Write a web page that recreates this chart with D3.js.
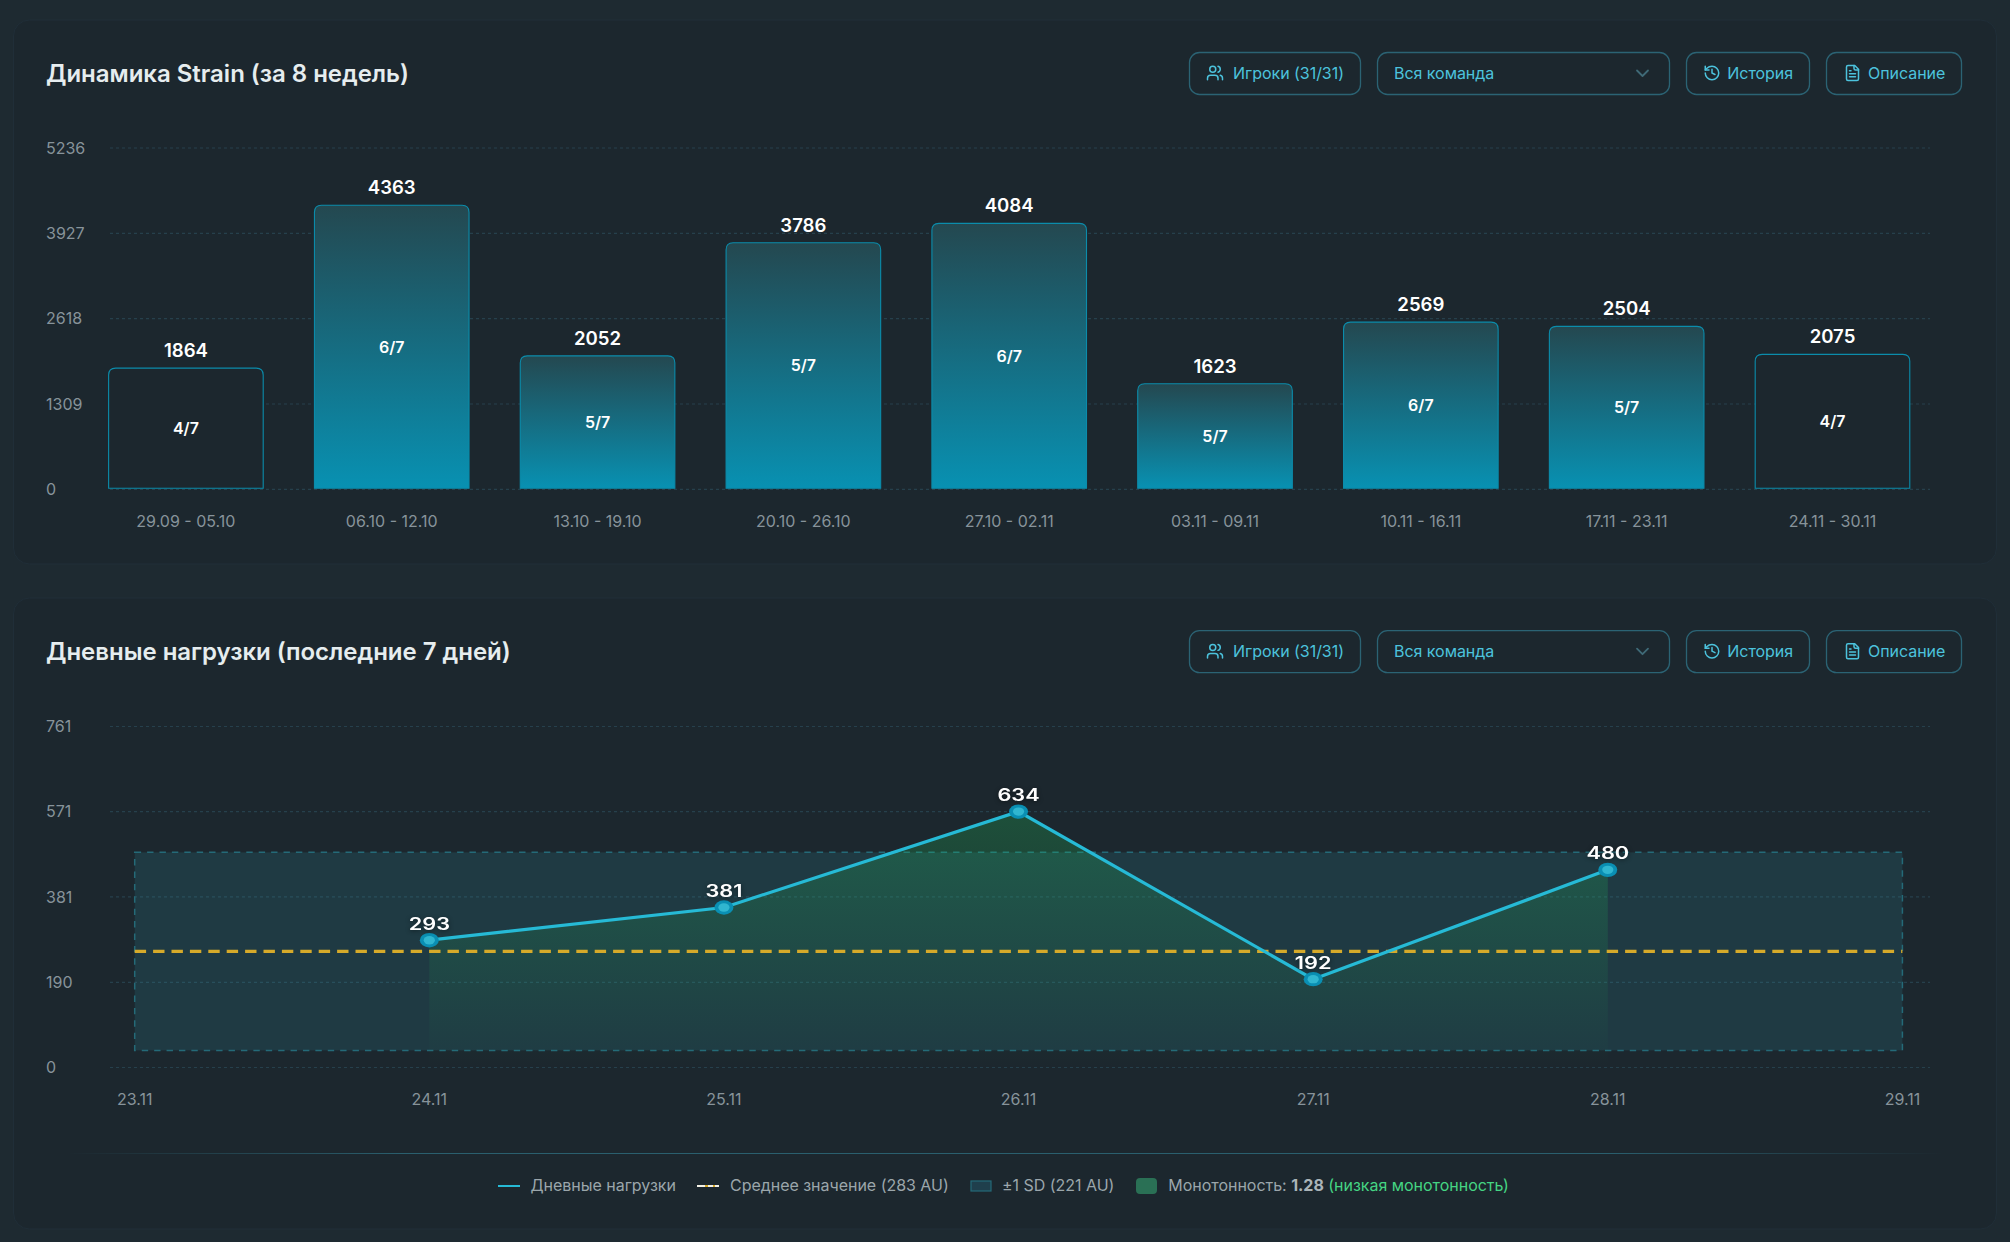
<!DOCTYPE html>
<html lang="ru">
<head>
<meta charset="utf-8">
<script src="https://cdn.jsdelivr.net/npm/d3@7/dist/d3.min.js"></script>
<style>
html,body{margin:0;padding:0;background:#1e2a31;}
svg{display:block;font-family:Inter,"Noto Sans",sans-serif;}
</style>
</head>
<body>
<svg id="c" width="2010" height="1242"></svg>
<script>
// ---- data ----
const weekLabels = ["29.09 - 05.10","06.10 - 12.10","13.10 - 19.10","20.10 - 26.10","27.10 - 02.11","03.11 - 09.11","10.11 - 16.11","17.11 - 23.11","24.11 - 30.11"];
const weekValues = [1864,4363,2052,3786,4084,1623,2569,2504,2075];
const weekDays = ["4/7","6/7","5/7","5/7","6/7","5/7","6/7","5/7","4/7"];
const weekGhost = [true,false,false,false,false,false,false,false,true];
const weekTicks = [0,1309,2618,3927,5236];

const dayLabels = ["23.11","24.11","25.11","26.11","27.11","28.11","29.11"];
const loadDays = ["24.11","25.11","26.11","27.11","28.11"];
const loadPlotted = [283,356,570,196,440];
const loadLabels = [293,381,634,192,480];
const dayTicks = [0,190,381,571,761];
const meanPlotted = 258;
const sdPlotted = 221;

const titles = ["Динамика Strain (за 8 недель)","Дневные нагрузки (последние 7 дней)"];
const legendTexts = ["Дневные нагрузки","Среднее значение (283 AU)","±1 SD (221 AU)"];

// ---- colours ----
const GRID="#26404c", TICK="#87939a", ACC="#4cc3dd", BORDER="#2b6374", PANEL="#1c272e";

const svg=d3.select("#c");
const defs=svg.append("defs");
const barGrad=defs.append("linearGradient").attr("id","barGrad").attr("x1",0).attr("x2",0).attr("y1",0).attr("y2",1);
barGrad.append("stop").attr("offset",0).attr("stop-color","#244850");
barGrad.append("stop").attr("offset",1).attr("stop-color","#0891b2");
const areaGrad=defs.append("linearGradient").attr("id","areaGrad").attr("x1",0).attr("x2",0).attr("y1",0).attr("y2",1);
areaGrad.append("stop").attr("offset",0).attr("stop-color","#22c55e").attr("stop-opacity",0.26);
areaGrad.append("stop").attr("offset",1).attr("stop-color","#22c55e").attr("stop-opacity",0);

// panels
[[13.5,20,1983,544],[13.5,598,1983,631]].forEach(p=>{
  svg.append("rect").attr("x",p[0]).attr("y",p[1]).attr("width",p[2]).attr("height",p[3]).attr("rx",16)
    .attr("fill",PANEL).attr("stroke","#202e38");
});

function icon(g,kind,x,y,size){
  const s=size/24;
  const n=g.append("g").attr("transform",`translate(${x},${y}) scale(${s})`)
    .attr("fill","none").attr("stroke",ACC).attr("stroke-width",2).attr("stroke-linecap","round").attr("stroke-linejoin","round");
  const paths={
    users:["M16 21v-2a4 4 0 0 0-4-4H6a4 4 0 0 0-4 4v2","M9 3a4 4 0 1 0 0 8a4 4 0 1 0 0-8","M22 21v-2a4 4 0 0 0-3-3.87","M16 3.13a4 4 0 0 1 0 7.75"],
    history:["M3 12a9 9 0 1 0 9-9 9.75 9.75 0 0 0-6.74 2.74L3 8","M3 3v5h5","M12 7v5l4 2"],
    file:["M15 2H6a2 2 0 0 0-2 2v16a2 2 0 0 0 2 2h12a2 2 0 0 0 2-2V7Z","M14 2v4a2 2 0 0 0 2 2h4","M10 9H8","M16 13H8","M16 17H8"]
  }[kind];
  paths.forEach(d=>n.append("path").attr("d",d));
}

function header(title,dy){
  const g=svg.append("g").attr("transform",`translate(0,${dy})`);
  g.append("text").attr("x",46).attr("y",73.6).attr("dy","0.35em").attr("font-size",24).attr("font-weight",600).attr("letter-spacing",-0.02).attr("fill","#e6edef").text(title);
  const btn=(x0,x1)=>g.append("rect").attr("x",x0).attr("y",52.5).attr("width",x1-x0).attr("height",42).attr("rx",10).attr("fill","none").attr("stroke",BORDER).attr("stroke-width",1.3);
  const lab=(x,t)=>g.append("text").attr("x",x).attr("y",73.5).attr("dy","0.35em").attr("font-size",16).attr("font-weight",400).attr("letter-spacing",-0.04).attr("fill",ACC).text(t);
  btn(1189.5,1360.5); icon(g,"users",1206,64,18); lab(1233,"Игроки (31/31)");
  btn(1377.5,1669.5); lab(1394,"Вся команда");
  g.append("path").attr("d","M1637 70.5l5.5 5.5l5.5-5.5").attr("fill","none").attr("stroke","#3f6a77").attr("stroke-width",1.8).attr("stroke-linecap","round").attr("stroke-linejoin","round");
  btn(1686.5,1809.5); icon(g,"history",1703,64,18); lab(1727.3,"История");
  btn(1826.5,1961.5); icon(g,"file",1843.5,64,18); lab(1868,"Описание");
}
titles.forEach((t,i)=>header(t,i*578.2));

function yAxis(sel,scale,ticks){
  sel.attr("transform","translate(110,0)")
    .call(d3.axisLeft(scale).tickValues(ticks).tickSize(-1820).tickPadding(25).tickFormat(d3.format("d")))
    .call(g=>g.select(".domain").remove())
    .call(g=>g.selectAll("line").attr("stroke",GRID).attr("stroke-width",1.2).attr("stroke-dasharray","3 3"))
    .call(g=>g.selectAll("text").attr("fill",TICK).attr("font-size",16).attr("text-anchor","start").attr("x",-64).attr("y",0.6).attr("font-family","Inter"));
}

// ---- chart 1 ----
const x1=d3.scaleBand().domain(weekLabels).range([83,1935.4]).paddingInner(0.247).paddingOuter(0.1235);
const y1=d3.scaleLinear().domain([0,5236]).range([488.8,147.5]);
svg.append("g").call(yAxis,y1,weekTicks);
const r=7, insetX=0.2, insetY=0.6;
const weeks=weekLabels.map((l,i)=>({l,v:weekValues[i],d:weekDays[i],ghost:weekGhost[i]}));
const barPath=d=>{
  const a=x1(d.l)+insetX,b=x1(d.l)+x1.bandwidth()-insetX,t=y1(d.v)+insetY+0.2,z=y1(0)-insetY;
  return `M${a},${z}V${t+r}Q${a},${t} ${a+r},${t}H${b-r}Q${b},${t} ${b},${t+r}V${z}`;
};
const bars=svg.append("g").selectAll("g").data(weeks).join("g");
bars.append("path").attr("d",d=>barPath(d)+"Z").attr("fill",d=>d.ghost?PANEL:"url(#barGrad)")
  .attr("stroke","#0b8cab").attr("stroke-width",1.1);
bars.append("text").attr("x",d=>x1(d.l)+x1.bandwidth()/2).attr("y",d=>y1(d.v)-17).attr("dy","0.35em")
  .attr("text-anchor","middle").attr("font-size",18.6).attr("font-weight",600).attr("fill","#fff").text(d=>d.v);
bars.append("text").attr("x",d=>x1(d.l)+x1.bandwidth()/2).attr("y",d=>(y1(d.v)+y1(0))/2+0.4).attr("dy","0.35em")
  .attr("text-anchor","middle").attr("font-size",16).attr("font-weight",600).attr("fill","#fff").text(d=>d.d);
svg.append("g").selectAll("text").data(weekLabels).join("text")
  .attr("x",d=>x1(d)+x1.bandwidth()/2).attr("y",521.5).attr("dy","0.35em").attr("text-anchor","middle")
  .attr("font-size",16).attr("fill",TICK).text(d=>d);

// ---- chart 2 ----
const x2=d3.scalePoint().domain(dayLabels).range([134.7,1902.4]);
const y2=d3.scaleLinear().domain([0,761]).range([1067,726]);
svg.append("g").call(yAxis,y2,dayTicks);
svg.append("rect").attr("x",x2(dayLabels[0])).attr("width",x2(dayLabels[6])-x2(dayLabels[0]))
  .attr("y",y2(meanPlotted+sdPlotted)).attr("height",y2(meanPlotted-sdPlotted)-y2(meanPlotted+sdPlotted))
  .attr("fill","#37a6ba").attr("fill-opacity",0.15).attr("stroke","#246a78").attr("stroke-width",1.5).attr("stroke-dasharray","6.4 6");
const pts=loadDays.map((d,i)=>({d,v:loadPlotted[i],l:loadLabels[i]}));
svg.append("path").datum(pts).attr("fill","url(#areaGrad)")
  .attr("d",d3.area().x(d=>x2(d.d)).y0(y2(0)).y1(d=>y2(d.v)));
svg.append("line").attr("x1",x2(dayLabels[0])).attr("x2",x2(dayLabels[6])).attr("y1",y2(meanPlotted)).attr("y2",y2(meanPlotted))
  .attr("stroke","#d6aa2a").attr("stroke-width",3.2).attr("stroke-dasharray","11.4 7");
svg.append("path").datum(pts).attr("fill","none").attr("stroke","#26bad6").attr("stroke-width",3.2)
  .attr("d",d3.line().x(d=>x2(d.d)).y(d=>y2(d.v)));
const pg=svg.append("g").selectAll("g").data(pts).join("g");
pg.append("ellipse").attr("cx",d=>x2(d.d)).attr("cy",d=>y2(d.v)).attr("rx",9.5).attr("ry",7.2).attr("fill","#0a8fb3");
pg.append("ellipse").attr("cx",d=>x2(d.d)).attr("cy",d=>y2(d.v)).attr("rx",5.6).attr("ry",4.2).attr("fill","#30b6d0");
pg.append("text").attr("transform",d=>`translate(${x2(d.d)},${y2(d.v)-16.5}) scale(1.28,1)`).attr("dy","0.35em")
  .attr("text-anchor","middle").attr("font-size",17).attr("font-weight",600).attr("fill","#fff")
  .style("filter","drop-shadow(0 1px 2px rgba(0,0,0,0.45))").text(d=>d.l);
svg.append("g").selectAll("text").data(dayLabels).join("text")
  .attr("x",d=>x2(d)).attr("y",1099).attr("dy","0.35em").attr("text-anchor","middle")
  .attr("font-size",16).attr("fill",TICK).text(d=>d);

// ---- legend ----
const LEG="#9ba6ab";
const lg=svg.append("g");
const divGrad=defs.append("linearGradient").attr("id","divGrad");
divGrad.append("stop").attr("offset",0).attr("stop-color","#2a5f6e").attr("stop-opacity",0);
divGrad.append("stop").attr("offset",0.18).attr("stop-color","#2a5f6e");
divGrad.append("stop").attr("offset",0.82).attr("stop-color","#2a5f6e");
divGrad.append("stop").attr("offset",1).attr("stop-color","#2a5f6e").attr("stop-opacity",0);
lg.append("rect").attr("x",66).attr("y",1153).attr("width",1878).attr("height",1).attr("fill","url(#divGrad)");
const lt=(x,t)=>lg.append("text").attr("x",x).attr("y",1185.4).attr("dy","0.35em").attr("font-size",16).attr("letter-spacing",-0.03).attr("fill",LEG).text(t);
lg.append("rect").attr("x",498).attr("y",1185).attr("width",22).attr("height",2).attr("fill","#26bad6");
lt(530.5,legendTexts[0]);
lg.append("rect").attr("x",697).attr("y",1185).attr("width",22).attr("height",2).attr("fill","#f3f1e6");
lg.append("rect").attr("x",705).attr("y",1185).attr("width",3).attr("height",2).attr("fill","#d6aa2a");
lg.append("rect").attr("x",713).attr("y",1185).attr("width",2).attr("height",2).attr("fill","#d6aa2a");
lt(730,legendTexts[1]);
lg.append("rect").attr("x",971).attr("y",1181).attr("width",20).attr("height",10).attr("fill","#1f3f4c").attr("stroke","#246a78").attr("stroke-width",1.2);
lt(1002,legendTexts[2]);
lg.append("rect").attr("x",1136).attr("y",1178).attr("width",21).attr("height",16).attr("rx",4).attr("fill","#2a7055");
const mt=lt(1168.3,"Монотонность: ");
mt.append("tspan").attr("font-weight",700).attr("fill","#aab4b8").text("1.28");
mt.append("tspan").attr("fill","#45d583").text(" (низкая монотонность)");
</script>
</body>
</html>
